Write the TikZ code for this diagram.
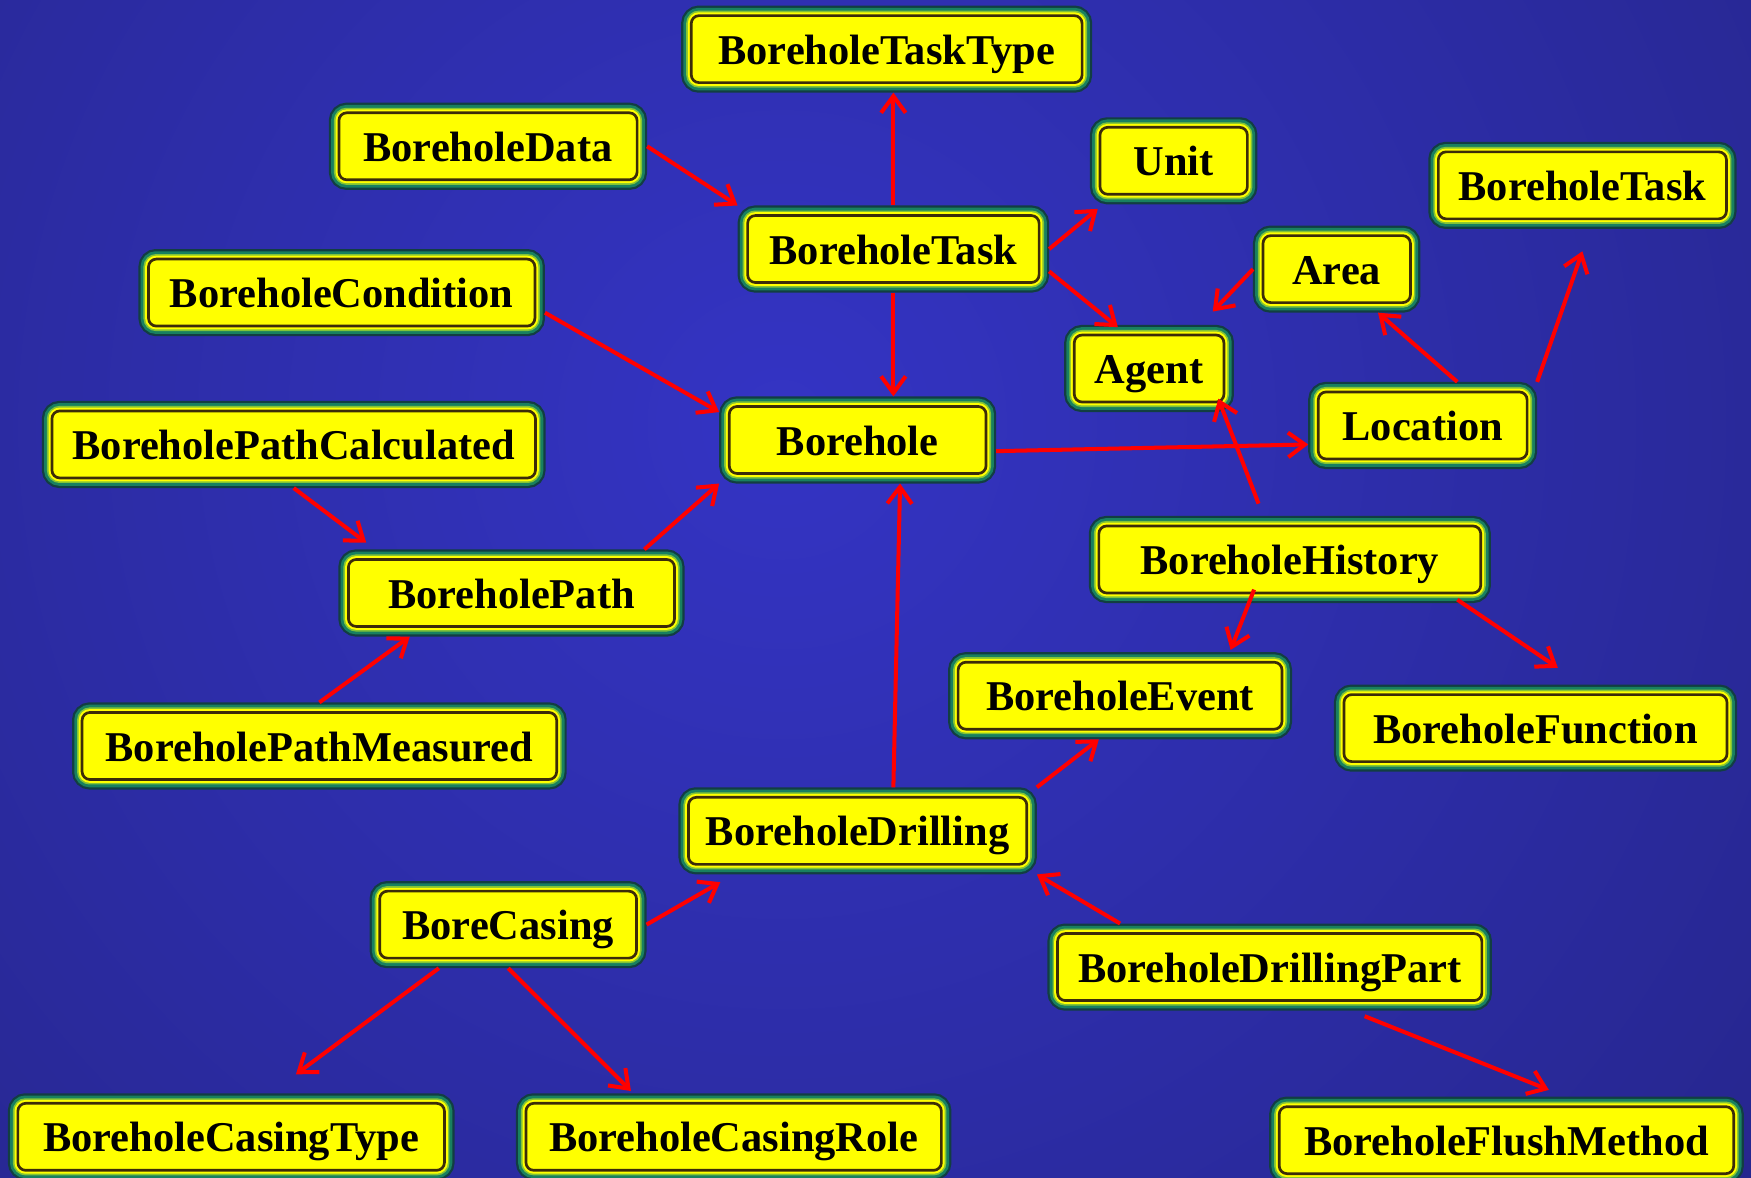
\documentclass[tikz,border=0pt]{standalone}
\usepackage{fontspec}
\setmainfont{Liberation Serif}
\usetikzlibrary{arrows.meta}
\definecolor{bgin}{RGB}{52,52,196}
\definecolor{bgout}{RGB}{28,28,102}
\definecolor{rimdark}{RGB}{18,62,66}
\definecolor{rimteal}{RGB}{24,128,96}
\definecolor{rimlight}{RGB}{130,195,55}
\definecolor{boxyel}{RGB}{255,255,0}
\definecolor{innerdark}{RGB}{60,44,8}
\definecolor{arrred}{RGB}{255,0,0}
\pgfdeclareradialshading{bgshade}{\pgfpoint{0bp}{0bp}}{color(0bp)=(bgin); color(42bp)=(bgout); color(50bp)=(bgout)}
\newcommand{\nodefnt}{\fontsize{38}{41}\selectfont\bfseries}
\tikzset{
  cls/.style={rectangle, rounded corners=7pt, fill=boxyel, draw=innerdark, line width=2.4pt,
    minimum height=60pt, inner sep=0pt, outer sep=9pt, font=\nodefnt, text=black,
    text height=27pt, text depth=0pt,
    preaction={draw=rimdark, line width=18pt},
    preaction={draw=rimteal, line width=14pt},
    preaction={draw=rimlight, line width=9pt},
    preaction={draw=boxyel, line width=6pt}},
  rel/.style={draw=arrred, line width=3.6pt, -{Straight Barb[length=15pt,width=22pt,line width=3.6pt]}}
}
\begin{document}
\begin{tikzpicture}[x=1pt,y=-1pt]
\useasboundingbox (0,0) rectangle (1568,1054);
\begin{scope}
\clip (0,0) rectangle (1568,1054);
\fill[bgout] (0,0) rectangle (1568,1054);
\shade[shading=bgshade] (700,380) circle[radius=1150];
\end{scope}

\node[cls, minimum width=350pt] (tasktype) at (794,44) {BoreholeTaskType};
\node[cls, minimum width=267pt] (data) at (437,131) {BoreholeData};
\node[cls, minimum width=132pt] (unit) at (1051,144) {Unit};
\node[cls, minimum width=258pt] (taskR) at (1417,166) {BoreholeTask};
\node[cls, minimum width=261pt] (task) at (800,223) {BoreholeTask};
\node[cls, minimum width=132pt] (area) at (1197,241) {Area};
\node[cls, minimum width=346pt] (condition) at (306,262) {BoreholeCondition};
\node[cls, minimum width=134pt] (agent) at (1029,330) {Agent};
\node[cls, minimum width=230pt] (borehole) at (768,394) {Borehole};
\node[cls, minimum width=187pt] (location) at (1274,381) {Location};
\node[cls, minimum width=433pt] (pathcalc) at (263,398) {BoreholePathCalculated};
\node[cls, minimum width=342pt] (history) at (1155,501) {BoreholeHistory};
\node[cls, minimum width=292pt] (path) at (458,531) {BoreholePath};
\node[cls, minimum width=290pt] (event) at (1003,623) {BoreholeEvent};
\node[cls, minimum width=343pt] (function) at (1375,652) {BoreholeFunction};
\node[cls, minimum width=425pt] (pathmeas) at (286,668) {BoreholePathMeasured};
\node[cls, minimum width=303pt] (drilling) at (768,744) {BoreholeDrilling};
\node[cls, minimum width=230pt] (casing) at (455,828) {BoreCasing};
\node[cls, minimum width=380pt] (drillingpart) at (1137,866) {BoreholeDrillingPart};
\node[cls, minimum width=382pt] (casingtype) at (207,1018) {BoreholeCasingType};
\node[cls, minimum width=372pt] (casingrole) at (657,1018) {BoreholeCasingRole};
\node[cls, minimum width=407pt] (flush) at (1349,1021) {BoreholeFlushMethod};

\draw[rel] (task.north) -- (task.north |- tasktype.south);
\draw[rel] (data.east) -- (task.north west);
\draw[rel] (task.east) -- ([xshift=7pt,yshift=-4pt]unit.south west);
\draw[rel] ([yshift=-20pt]task.east) -- ([xshift=-28pt,yshift=-2pt]agent.north);
\draw[rel] (task.south) -- (task.south |- borehole.north);
\draw[rel] (area.west) -- ([xshift=-19pt,yshift=12pt]agent.north east);
\draw[rel] ([yshift=-18pt]condition.east) -- ([yshift=-14pt]borehole.north west);
\draw[rel] ([yshift=-10pt]borehole.east) -- ([yshift=-17pt]location.west);
\draw[rel] ([xshift=31pt]location.north) -- ([xshift=37pt]area.south);
\draw[rel] (location.north east) -- ([yshift=-20pt]taskR.south);
\draw[rel] ([xshift=-28pt,yshift=11pt]history.north) -- ([xshift=-14pt,yshift=12pt]agent.south east);
\draw[rel] (pathcalc.south) -- ([xshift=25pt,yshift=6pt]path.north west);
\draw[rel] ([xshift=119pt]path.north) -- (borehole.south west);
\draw[rel] (pathmeas.north) -- ([xshift=-91pt]path.south);
\draw[rel] ([xshift=32pt]drilling.north) -- ([xshift=38pt]borehole.south);
\draw[rel] ([xshift=-32pt,yshift=12pt]history.south) -- ([xshift=99pt,yshift=2pt]event.north);
\draw[rel] ([xshift=150pt,yshift=3pt]history.south) -- ([xshift=20pt,yshift=15pt]function.north);
\draw[rel] (drilling.north east) -- ([xshift=-19pt]event.south);
\draw[rel] (casing.east) -- ([xshift=-123pt,yshift=-7pt]drilling.south);
\draw[rel] ([xshift=-134pt]drillingpart.north) -- (drilling.south east);
\draw[rel] ([xshift=-62pt]casing.south) -- ([xshift=58pt,yshift=17pt]casingtype.north);
\draw[rel] (casing.south) -- ([xshift=-92pt,yshift=2pt]casingrole.north);
\draw[rel] ([xshift=85pt,yshift=-5pt]drillingpart.south) -- ([xshift=38pt,yshift=6pt]flush.north);
\end{tikzpicture}
\end{document}
